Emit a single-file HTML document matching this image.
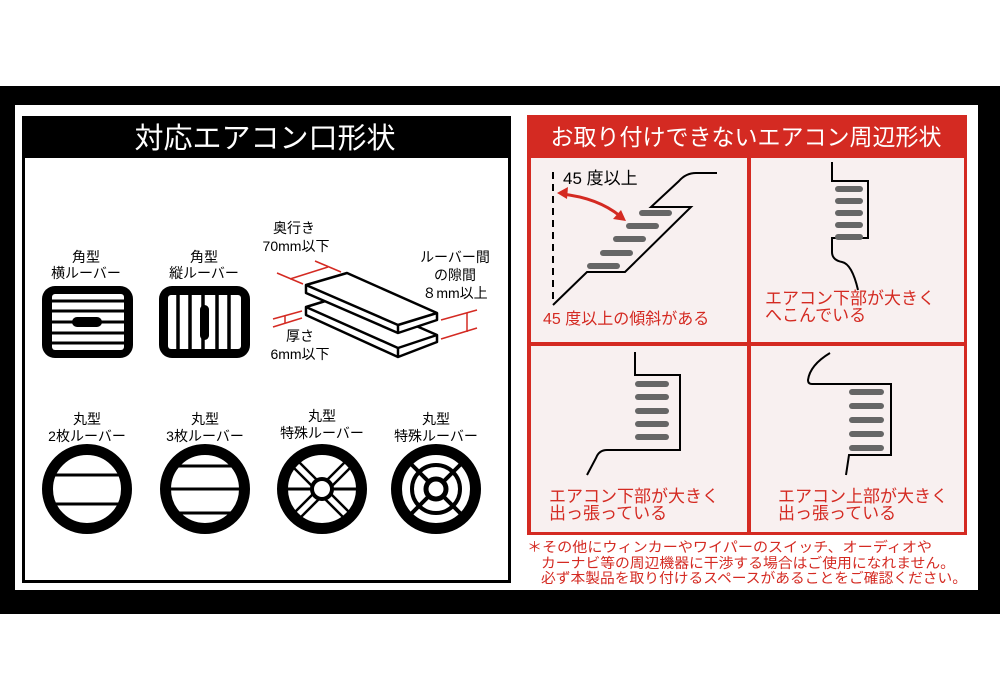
<!DOCTYPE html>
<html><head><meta charset="utf-8"><style>
html,body{margin:0;padding:0;background:#fff;}
svg{display:block;}
text{font-family:"Liberation Sans","Noto Sans CJK JP",sans-serif;}
</style></head><body>
<svg width="1000" height="700" viewBox="0 0 1000 700" xmlns="http://www.w3.org/2000/svg">
<rect x="0" y="0" width="1000" height="700" fill="#fff"/>
<rect x="0" y="86" width="1000" height="528" fill="#000"/>
<rect x="15" y="105" width="963" height="485" fill="#fff"/>

<!-- LEFT PANEL -->
<rect x="23.5" y="117.5" width="486" height="464" fill="#fff" stroke="#000" stroke-width="3"/>
<rect x="22" y="116" width="489" height="42" fill="#000"/>
<text x="265" y="148" font-size="29" fill="#fff" text-anchor="middle">対応エアコン口形状</text>

<g font-size="14" fill="#000" text-anchor="middle">
<text x="86" y="262">角型</text><text x="86" y="278">横ルーバー</text>
<text x="204" y="262">角型</text><text x="204" y="278">縦ルーバー</text>
<text x="294" y="233">奥行き</text><text x="296" y="251">70mm以下</text>
<text x="455" y="262">ルーバー間</text><text x="455" y="280">の隙間</text><text x="455" y="298">８mm以上</text>
<text x="300" y="341">厚さ</text><text x="300" y="359">6mm以下</text>
<text x="87" y="424">丸型</text><text x="87" y="441">2枚ルーバー</text>
<text x="205" y="424">丸型</text><text x="205" y="441">3枚ルーバー</text>
<text x="322" y="421">丸型</text><text x="322" y="438">特殊ルーバー</text>
<text x="436" y="424">丸型</text><text x="436" y="441">特殊ルーバー</text>
</g>

<!-- square horizontal -->
<rect x="42" y="286" width="91" height="72" rx="13" fill="#000"/>
<rect x="52" y="294" width="72" height="56" rx="3" fill="#fff"/>
<g stroke="#000" stroke-width="3">
<line x1="52" y1="301" x2="124" y2="301"/><line x1="52" y1="311" x2="124" y2="311"/>
<line x1="52" y1="322" x2="124" y2="322"/><line x1="52" y1="333" x2="124" y2="333"/>
<line x1="52" y1="343" x2="124" y2="343"/></g>
<rect x="72" y="317" width="30" height="10" rx="5" fill="#000"/>
<!-- square vertical -->
<rect x="159" y="286" width="91" height="72" rx="13" fill="#000"/>
<rect x="168" y="295" width="73" height="54" rx="3" fill="#fff"/>
<g stroke="#000" stroke-width="3.5">
<line x1="178" y1="295" x2="178" y2="349"/><line x1="190" y1="295" x2="190" y2="349"/>
<line x1="203" y1="295" x2="203" y2="349"/><line x1="217" y1="295" x2="217" y2="349"/>
<line x1="229" y1="295" x2="229" y2="349"/></g>
<rect x="200" y="305" width="9" height="35" rx="4.5" fill="#000"/>

<!-- plates -->
<g fill="#fff" stroke="#000" stroke-width="2.5" stroke-linejoin="round">
<polygon points="306,307 345,295 437,335 437,342 398,357 306,315"/>
<polyline points="306,307 398,348 437,335" fill="none"/>
<line x1="398" y1="348" x2="398" y2="357"/>
<polygon points="306,285 347,273 437,313 437,320 398,333 306,293"/>
<polyline points="306,285 398,325 437,313" fill="none"/>
<line x1="398" y1="325" x2="398" y2="333"/>
</g>
<g stroke="#d42a22" stroke-width="1.5" fill="none">
<line x1="315" y1="261" x2="341" y2="272"/><line x1="277" y1="273" x2="303" y2="284"/>
<line x1="290" y1="279" x2="328" y2="267"/>
<line x1="273" y1="319" x2="302" y2="311"/><line x1="273" y1="327" x2="302" y2="318"/>
<line x1="285" y1="316" x2="285" y2="323"/>
<line x1="441" y1="320" x2="477" y2="310"/><line x1="441" y1="339" x2="477" y2="328"/>
<line x1="467" y1="313" x2="467" y2="332"/>
</g>

<!-- circles -->
<g fill="#fff" stroke="#000">
<circle cx="87" cy="489" r="39.5" stroke-width="11"/>
<circle cx="205" cy="489" r="39.5" stroke-width="11"/>
<circle cx="322" cy="489" r="39.5" stroke-width="11"/>
<circle cx="436" cy="489" r="39.5" stroke-width="11"/>
</g>
<g stroke="#000" stroke-width="3">
<line x1="50" y1="475" x2="124" y2="475"/><line x1="50" y1="504" x2="124" y2="504"/>
<line x1="168" y1="466" x2="242" y2="466"/><line x1="168" y1="489" x2="242" y2="489"/><line x1="168" y1="513" x2="242" y2="513"/>
<line x1="285" y1="489" x2="359" y2="489"/>
</g>
<g stroke="#000" stroke-width="2.5">
<line x1="296" y1="459" x2="352" y2="515"/><line x1="292" y1="466" x2="345" y2="519"/>
<line x1="348" y1="459" x2="292" y2="515"/><line x1="352" y1="466" x2="299" y2="519"/>
</g>
<circle cx="322" cy="489" r="10" fill="#fff" stroke="#000" stroke-width="4"/>
<g stroke="#000" stroke-width="4" fill="none">
<line x1="410" y1="463" x2="462" y2="515"/><line x1="462" y1="463" x2="410" y2="515"/>
<circle cx="436" cy="489" r="24"/>
</g>
<circle cx="436" cy="489" r="10" fill="#fff" stroke="#000" stroke-width="5"/>

<!-- RIGHT PANEL -->
<rect x="527" y="115" width="440" height="420" fill="#d42a22"/>
<rect x="531" y="158" width="216" height="184" fill="#f8f0f0"/>
<rect x="751" y="158" width="213" height="184" fill="#f8f0f0"/>
<rect x="531" y="346" width="216" height="186" fill="#f8f0f0"/>
<rect x="751" y="346" width="213" height="186" fill="#f8f0f0"/>
<text x="746" y="145" font-size="23" fill="#fff" text-anchor="middle">お取り付けできないエアコン周辺形状</text>

<!-- cell1 -->
<line x1="553" y1="172" x2="553" y2="303" stroke="#000" stroke-width="2" stroke-dasharray="7,5"/>
<text x="563" y="184" font-size="17" fill="#000">45 度以上</text>
<path d="M553,305 L587,272 L625,272 L691,207 L651,207 L679,181 Q686,173 696,173 L717,173" fill="none" stroke="#000" stroke-width="2"/>
<g fill="#666">
<rect x="639" y="210" width="33" height="6" rx="3"/><rect x="626" y="223" width="33" height="6" rx="3"/>
<rect x="613" y="236" width="33" height="6" rx="3"/><rect x="600" y="250" width="33" height="6" rx="3"/>
<rect x="587" y="263" width="33" height="6" rx="3"/></g>
<path d="M562,194 Q598,198 620,216" fill="none" stroke="#d42a22" stroke-width="3"/>
<polygon points="557,193 568,187 567,199" fill="#d42a22"/>
<polygon points="626,221 613,219 621,210" fill="#d42a22"/>
<text x="543" y="324" font-size="16" fill="#d42a22">45 度以上の傾斜がある</text>

<!-- cell2 -->
<path d="M832,162 L832,181 L868,181 L868,238 L832,238 L832,252 Q832,260 842,262 Q852,264 858,290" fill="none" stroke="#000" stroke-width="2"/>
<g fill="#666">
<rect x="835" y="186" width="28" height="6" rx="3"/><rect x="835" y="198" width="28" height="6" rx="3"/>
<rect x="835" y="210" width="28" height="6" rx="3"/><rect x="835" y="222" width="28" height="6" rx="3"/>
<rect x="835" y="234" width="28" height="6" rx="3"/></g>
<text x="765" y="304" font-size="17" fill="#d42a22">エアコン下部が大きく</text>
<text x="765" y="321" font-size="17" fill="#d42a22">へこんでいる</text>

<!-- cell3 -->
<path d="M635,352 L635,375 L680,375 L680,450 L607,450 Q599,450 596,458 L587,475" fill="none" stroke="#000" stroke-width="2"/>
<g fill="#666">
<rect x="635" y="381" width="34" height="6" rx="3"/><rect x="635" y="394" width="34" height="6" rx="3"/>
<rect x="635" y="408" width="34" height="6" rx="3"/><rect x="635" y="421" width="34" height="6" rx="3"/>
<rect x="635" y="434" width="34" height="6" rx="3"/></g>
<text x="549" y="502" font-size="17" fill="#d42a22">エアコン下部が大きく</text>
<text x="549" y="519" font-size="17" fill="#d42a22">出っ張っている</text>

<!-- cell4 -->
<path d="M830,353 Q810,365 808,380 Q808,384 812,384 L891,384 L891,455 L849,455 L846,475" fill="none" stroke="#000" stroke-width="2"/>
<g fill="#666">
<rect x="849" y="389" width="35" height="6" rx="3"/><rect x="849" y="403" width="35" height="6" rx="3"/>
<rect x="849" y="417" width="35" height="6" rx="3"/><rect x="849" y="431" width="35" height="6" rx="3"/>
<rect x="849" y="445" width="35" height="6" rx="3"/></g>
<text x="778" y="502" font-size="17" fill="#d42a22">エアコン上部が大きく</text>
<text x="778" y="519" font-size="17" fill="#d42a22">出っ張っている</text>

<!-- footnote -->
<g font-size="14" fill="#d42a22">
<text x="527" y="552" textLength="405" lengthAdjust="spacingAndGlyphs">＊その他にウィンカーやワイパーのスイッチ、オーディオや</text>
<text x="541" y="568" textLength="414" lengthAdjust="spacingAndGlyphs">カーナビ等の周辺機器に干渉する場合はご使用になれません。</text>
<text x="541" y="583" textLength="426" lengthAdjust="spacingAndGlyphs">必ず本製品を取り付けるスペースがあることをご確認ください。</text>
</g>
</svg>
</body></html>
